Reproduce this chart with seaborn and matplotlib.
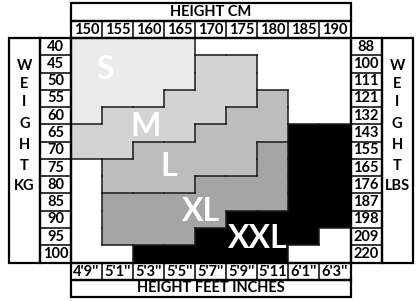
import numpy as np
import pandas as pd
import matplotlib
matplotlib.use("Agg")
import matplotlib.pyplot as plt
import seaborn as sns
from matplotlib.colors import ListedColormap
from matplotlib.patches import Rectangle

# ---- data ----
height_cm = [150, 155, 160, 165, 170, 175, 180, 185, 190]
height_ft = ["4'9''", "5'1''", "5'3''", "5'5''", "5'7''", "5'9''", "5'11", "6'1''", "6'3''"]
weight_kg = [40, 45, 50, 55, 60, 65, 70, 75, 80, 85, 90, 95, 100]
weight_lbs = [88, 100, 111, 121, 132, 143, 155, 165, 176, 187, 198, 209, 220]
size_names = ["", "S", "M", "L", "XL", "XXL"]
size_colors = ["#ffffff", "#ebebeb", "#d3d3d3", "#bdbdbd", "#a5a5a5", "#000000"]

size_rows = [
    ["S", "S", "S", "S", "", "", "", "", ""],
    ["S", "S", "S", "S", "M", "M", "", "", ""],
    ["S", "S", "S", "S", "M", "M", "", "", ""],
    ["S", "S", "S", "M", "M", "M", "L", "", ""],
    ["S", "M", "M", "M", "M", "L", "L", "", ""],
    ["M", "M", "M", "M", "L", "L", "L", "XXL", "XXL"],
    ["M", "M", "L", "L", "L", "L", "XL", "XXL", "XXL"],
    ["", "L", "L", "L", "L", "L", "XL", "XXL", "XXL"],
    ["", "L", "L", "L", "XL", "XL", "XL", "XXL", "XXL"],
    ["", "XL", "XL", "XL", "XL", "XL", "XL", "XXL", "XXL"],
    ["", "XL", "XL", "XL", "XL", "XXL", "XXL", "XXL", "XXL"],
    ["", "XL", "XL", "XL", "XXL", "XXL", "XXL", "XXL", ""],
    ["", "", "XXL", "XXL", "XXL", "XXL", "XXL", "", ""],
]

codes = np.array([[size_names.index(s) for s in row] for row in size_rows])
df = pd.DataFrame(codes, index=weight_kg, columns=height_cm)

# ---- figure ----
sns.set_theme(style="white")
plt.rcParams["font.family"] = ["Lato", "DejaVu Sans"]
fig = plt.figure(figsize=(4.16, 3.01), dpi=100)
W, H = 416, 301
x0, x1, y0, y1 = 71, 350.5, 38, 262.5
ax = fig.add_axes([x0 / W, (H - y1) / H, (x1 - x0) / W, (y1 - y0) / H])

sns.heatmap(df, cmap=ListedColormap(size_colors), vmin=-0.5, vmax=5.5, cbar=False,
            ax=ax, xticklabels=False, yticklabels=False, linewidths=0)
ax.set_xlabel("")
ax.set_ylabel("")
for s in ax.spines.values():
    s.set_visible(False)

nr, nc = codes.shape
edge = "#1a1a1a"
# region boundaries
for r in range(nr):
    for c in range(nc - 1):
        if codes[r, c] != codes[r, c + 1]:
            ax.plot([c + 1, c + 1], [r, r + 1], color=edge, lw=1.1, solid_capstyle="projecting", zorder=3)
for r in range(nr - 1):
    for c in range(nc):
        if codes[r, c] != codes[r + 1, c]:
            ax.plot([c, c + 1], [r + 1, r + 1], color=edge, lw=1.1, solid_capstyle="projecting", zorder=3)

outer_lw = 1.6
inner_lw = 1.1

def box(x, y, w, h, lw=outer_lw):
    ax.add_patch(Rectangle((x, y), w, h, fill=False, edgecolor="black", lw=lw,
                           clip_on=False, zorder=5))

num_fs = 10.5
hdr_fs = 10.5
# grid border
box(0, 0, nc, nr)
# top header
box(0, -2, nc, 1)
box(0, -1, nc, 1)
ax.text(nc / 2, -1.5, "HEIGHT CM", ha="center", va="center", fontsize=hdr_fs,
        fontweight="bold", color="black", clip_on=False)
for c, lab in enumerate(height_cm):
    if c > 0:
        ax.plot([c, c], [-1, 0], color="black", lw=inner_lw, clip_on=False, zorder=5)
    ax.text(c + 0.5, -0.45, str(lab), ha="center", va="center", fontsize=num_fs,
            fontweight="bold", color="black", clip_on=False)
# bottom header
box(0, nr, nc, 1)
box(0, nr + 1, nc, 1)
ax.text(nc / 2, nr + 1.5, "HEIGHT FEET INCHES", ha="center", va="center", fontsize=hdr_fs,
        fontweight="bold", color="black", clip_on=False)
for c, lab in enumerate(height_ft):
    if c > 0:
        ax.plot([c, c], [nr, nr + 1], color="black", lw=inner_lw, clip_on=False, zorder=5)
    ax.text(c + 0.5, nr + 0.55, lab, ha="center", va="center", fontsize=num_fs,
            fontweight="bold", color="black", clip_on=False)
# left columns
box(-2, 0, 1, nr)
box(-1, 0, 1, nr)
for r, lab in enumerate(weight_kg):
    if r > 0:
        ax.plot([-1, 0], [r, r], color="black", lw=inner_lw, clip_on=False, zorder=5)
    ax.text(-0.5, r + 0.5, str(lab), ha="center", va="center", fontsize=num_fs,
            fontweight="bold", color="black", clip_on=False)
# right columns
box(nc, 0, 1, nr)
box(nc + 1, 0, 1, nr)
for r, lab in enumerate(weight_lbs):
    if r > 0:
        ax.plot([nc, nc + 1], [r, r], color="black", lw=inner_lw, clip_on=False, zorder=5)
    ax.text(nc + 0.5, r + 0.5, str(lab), ha="center", va="center", fontsize=num_fs,
            fontweight="bold", color="black", clip_on=False)

side_letters_left = ["W", "E", "I", "G", "H", "T", "KG"]
side_letters_right = ["W", "E", "I", "G", "H", "T", "LBS"]
side_y = [1.6, 2.65, 3.7, 5.0, 6.2, 7.4, 8.55]
for t, yy in zip(side_letters_left, side_y):
    ax.text(-1.5, yy, t, ha="center", va="center", fontsize=hdr_fs, fontweight="bold",
            color="black", clip_on=False)
for t, yy in zip(side_letters_right, side_y):
    ax.text(nc + 1.5, yy, t, ha="center", va="center", fontsize=hdr_fs, fontweight="bold",
            color="black", clip_on=False)

# size labels
label_pos = {"S": (1.1, 1.85), "M": (2.4, 5.1), "L": (3.16, 7.45), "XL": (4.2, 10.05), "XXL": (6.0, 11.6)}
for name, (lx, ly) in label_pos.items():
    ax.text(lx, ly, name, ha="center", va="center", fontsize=23, fontweight="bold",
            color="white", zorder=6)

ax.set_xlim(0, nc)
ax.set_ylim(nr, 0)
fig.savefig("out.png", dpi=100, facecolor="white")
